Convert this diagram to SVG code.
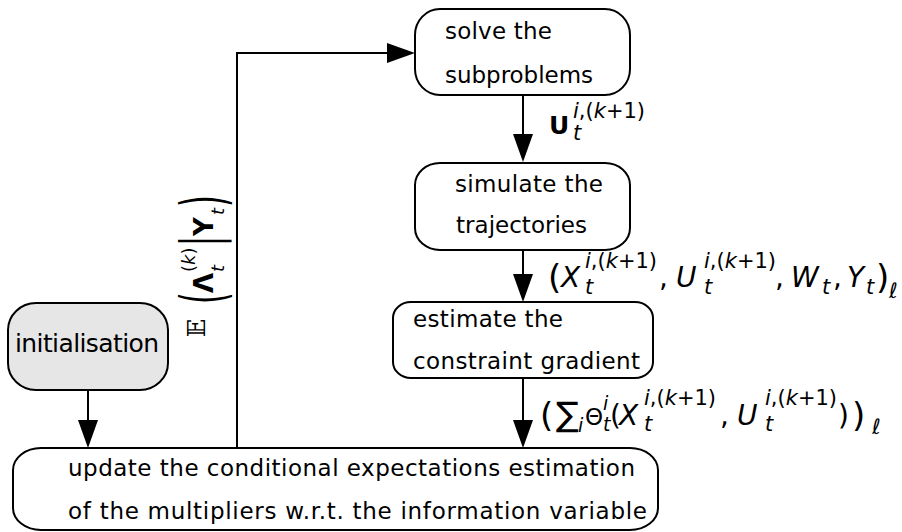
<svg xmlns="http://www.w3.org/2000/svg" width="902" height="532" viewBox="0 0 902 532">
<style>
.box{fill:#fff;stroke:#000;stroke-width:2}
.init{fill:#e6e6e6;stroke:#000;stroke-width:2}
.t{font-family:"DejaVu Sans",sans-serif;font-size:23px;fill:#000}
.ti{font-family:"DejaVu Sans",sans-serif;font-size:25px;fill:#000}
.edge{fill:none;stroke:#000;stroke-width:2;marker-end:url(#ah)}
.m{font-family:"DejaVu Sans",sans-serif;font-size:28px;font-style:italic;fill:#000}
.s{font-size:21px}
.r{font-style:normal}
.b{font-weight:bold;font-style:normal}
</style>
<defs>
<marker id="ah" markerUnits="userSpaceOnUse" markerWidth="28" markerHeight="20" refX="20" refY="10" orient="auto">
<path d="M0,0 L28,10 L0,20 Z" fill="#000"/>
</marker>
</defs>

<g id="n-solve">
<rect class="box" x="415" y="9" width="215" height="86" rx="25" ry="26"/>
<text class="t" x="445" y="39" textLength="107">solve the</text>
<text class="t" x="445" y="83" textLength="148">subproblems</text>
</g>

<g id="n-simulate">
<rect class="box" x="415" y="163" width="215" height="87" rx="25" ry="22"/>
<text class="t" x="455" y="192" textLength="148">simulate the</text>
<text class="t" x="456" y="233" textLength="131">trajectories</text>
</g>

<g id="n-estimate">
<rect class="box" x="393" y="302" width="260" height="76" rx="18" ry="16"/>
<text class="t" x="413" y="327" textLength="150">estimate the</text>
<text class="t" x="413" y="369" textLength="227">constraint gradient</text>
</g>

<g id="n-init">
<rect class="init" x="8" y="303" width="160" height="87" rx="28" ry="27"/>
<text class="ti" x="15" y="352" textLength="144">initialisation</text>
</g>

<g id="n-update">
<rect class="box" x="13" y="448" width="645" height="82" rx="28" ry="22"/>
<text class="t" x="68" y="476" textLength="567">update the conditional expectations estimation</text>
<text class="t" x="68" y="519" textLength="579">of the multipliers w.r.t. the information variable</text>
</g>

<g id="connectors">
<path class="edge" d="M88,390 V440"/>
<path class="edge" d="M523,95 V154"/>
<path class="edge" d="M523,250 V294"/>
<path class="edge" d="M523,378 V440"/>
<path class="edge" d="M237,448 V53 H407"/>

<text class="m"><tspan class="b" x="549" y="134" style="font-size:25px">U</tspan><tspan class="s" x="573" y="118"><tspan>i</tspan><tspan class="r">,(</tspan><tspan>k</tspan><tspan class="r">+1)</tspan></tspan><tspan class="s" x="573" y="140">t</tspan></text>

<text class="m"><tspan class="r" x="548" y="289" style="font-size:34px">(</tspan><tspan x="561" y="287">X</tspan><tspan class="s" x="585" y="268"><tspan>i</tspan><tspan class="r">,(</tspan><tspan>k</tspan><tspan class="r">+1)</tspan></tspan><tspan class="s" x="585" y="294">t</tspan><tspan class="r" x="659" y="287">,</tspan><tspan x="676" y="287">U</tspan><tspan class="s" x="704" y="268"><tspan>i</tspan><tspan class="r">,(</tspan><tspan>k</tspan><tspan class="r">+1)</tspan></tspan><tspan class="s" x="704" y="294">t</tspan><tspan class="r" x="775" y="287">,</tspan><tspan x="791" y="287">W</tspan><tspan class="s" x="822" y="294">t</tspan><tspan class="r" x="833" y="287">,</tspan><tspan x="847" y="287">Y</tspan><tspan class="s" x="866" y="294">t</tspan><tspan class="r" x="876" y="289" style="font-size:34px">)</tspan><tspan class="s" x="889" y="298">ℓ</tspan></text>

<text class="m"><tspan class="r" x="540" y="427" style="font-size:34px">(</tspan><tspan class="r" x="556" y="426" style="font-size:34px">∑</tspan><tspan class="s" x="578" y="432" style="font-size:19px">i</tspan><tspan class="r" x="585" y="425" style="font-size:23px">Θ</tspan><tspan class="s" x="603" y="410" style="font-size:19px">i</tspan><tspan class="s" x="603" y="431" style="font-size:19px">t</tspan><tspan class="r" x="610" y="425">(</tspan><tspan x="619" y="425">X</tspan><tspan class="s" x="644" y="405"><tspan>i</tspan><tspan class="r">,(</tspan><tspan>k</tspan><tspan class="r">+1)</tspan></tspan><tspan class="s" x="644" y="431">t</tspan><tspan class="r" x="720" y="425">,</tspan><tspan x="737" y="425">U</tspan><tspan class="s" x="765" y="405"><tspan>i</tspan><tspan class="r">,(</tspan><tspan>k</tspan><tspan class="r">+1)</tspan></tspan><tspan class="s" x="765" y="431">t</tspan><tspan class="r" x="838" y="425">)</tspan><tspan class="r" x="852" y="427" style="font-size:34px">)</tspan><tspan class="s" x="872" y="434">ℓ</tspan></text>

<g id="feedback-label" transform="translate(213,337) rotate(-90)">
<text class="m"><tspan class="r" x="0" y="-8" style="font-size:24px;font-family:'DejaVu Serif','DejaVu Sans',serif">𝔼</tspan><tspan class="b" x="44" y="0" style="font-size:26px">Λ</tspan><tspan x="65" y="-18" style="font-size:18px"><tspan class="r">(</tspan><tspan>k</tspan><tspan class="r">)</tspan></tspan><tspan x="65" y="11" style="font-size:18px">t</tspan><tspan class="b" x="101" y="0" style="font-size:26px">Y</tspan><tspan x="122" y="11" style="font-size:18px">t</tspan></text>
<text class="m r" transform="scale(1,2)" x="33" y="5.3" style="font-size:30px;font-style:normal">(</text>
<text class="m r" transform="scale(1,1.8)" x="91" y="3.3" style="font-size:30px;font-style:normal">|</text>
<text class="m r" transform="scale(1,2)" x="130" y="5.3" style="font-size:30px;font-style:normal">)</text>
</g>
</g>
</svg>
